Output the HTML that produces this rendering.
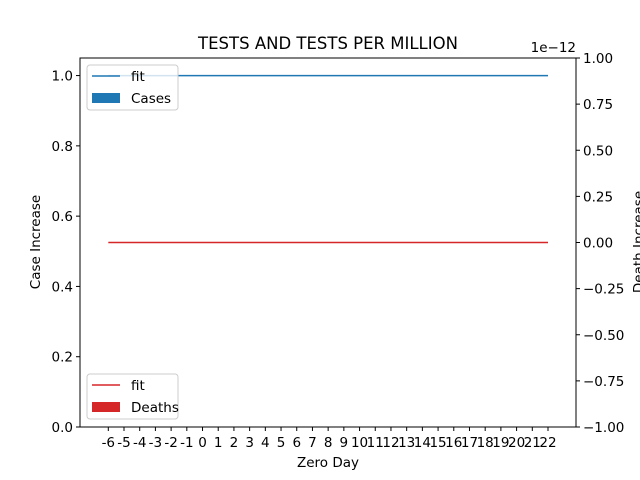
<!DOCTYPE html>
<html><head><meta charset="utf-8"><style>body{margin:0;background:#fff}svg{display:block;font-family:"DejaVu Sans","Liberation Sans",sans-serif}</style></head>
<body>
<svg id="c" width="640" height="480"></svg>
<script>
const days=[-6,-5,-4,-3,-2,-1,0,1,2,3,4,5,6,7,8,9,10,11,12,13,14,15,16,17,18,19,20,21,22];
const caseFit=days.map(()=>1.0);
const deathFit=days.map(()=>0.0);
const leftTicks=[0.0,0.2,0.4,0.6,0.8,1.0];
const rightTicks=[-1.00,-0.75,-0.50,-0.25,0.00,0.25,0.50,0.75,1.00];
const NS="http://www.w3.org/2000/svg";
const svg=document.getElementById('c');
const L=80,R=576,T=58,B=427,FS=13.5;
const x=d=>108.3+(d+6)*(548-108.3)/28;
const yl=v=>B-(v/1.05)*(B-T);
const yr=v=>B-(v+1)/2*(B-T);
function el(t,a,txt){const e=document.createElementNS(NS,t);for(const k in a)e.setAttribute(k,a[k]);if(txt!==undefined)e.textContent=txt;svg.appendChild(e);return e;}
let e;
e=el('rect',{x:L,y:T,width:R-L,height:B-T,fill:'none',stroke:'#000','stroke-width':1});

days.forEach(d=>{el('line',{x1:x(d),x2:x(d),y1:B,y2:B+4,stroke:'#000'});
 e=el('text',{x:x(d),y:B+20,'text-anchor':'middle','font-size':FS},String(d));
 });
leftTicks.forEach(v=>{el('line',{x1:L-4,x2:L,y1:yl(v),y2:yl(v),stroke:'#000'});
 e=el('text',{x:L-7,y:yl(v)+5,'text-anchor':'end','font-size':FS},v.toFixed(1));
 });
rightTicks.forEach(v=>{el('line',{x1:R,x2:R+4,y1:yr(v),y2:yr(v),stroke:'#000'});
 e=el('text',{x:R+7,y:yr(v)+5,'text-anchor':'start','font-size':FS},v.toFixed(2).replace('-','−'));
 });
e=el('text',{x:R,y:52,'text-anchor':'end','font-size':FS},'1e−12');

e=el('text',{x:328,y:49,'text-anchor':'middle','font-size':16.5},'TESTS AND TESTS PER MILLION');

e=el('text',{x:328,y:467,'text-anchor':'middle','font-size':FS},'Zero Day');

e=el('text',{x:40,y:242,'text-anchor':'middle','font-size':FS,transform:'rotate(-90 40 242)'},'Case Increase');

e=el('text',{x:643,y:242,'text-anchor':'middle','font-size':FS,transform:'rotate(-90 643 242)'},'Death Increase');

e=el('polyline',{points:days.map((d,i)=>x(d)+','+yl(caseFit[i])).join(' '),fill:'none',stroke:'#1f77b4','stroke-width':1.5});

e=el('polyline',{points:days.map((d,i)=>x(d)+','+yr(deathFit[i])).join(' '),fill:'none',stroke:'#d62728','stroke-width':1.5});

function legend(y0,color,label,name){
 e=el('rect',{x:87,y:y0,width:91,height:45,rx:3,fill:'#fff','fill-opacity':0.8,stroke:'#ccc'});
 
 el('line',{x1:92,x2:120,y1:y0+11,y2:y0+11,stroke:color,'stroke-width':1.5});
 el('text',{x:131,y:y0+16,'font-size':FS},'fit');
 el('rect',{x:92,y:y0+28,width:28,height:10,fill:color});
 el('text',{x:131,y:y0+38,'font-size':FS},label);
}
legend(65,'#1f77b4','Cases','cases-legend');
legend(374,'#d62728','Deaths','deaths-legend');
</script>
</body></html>
